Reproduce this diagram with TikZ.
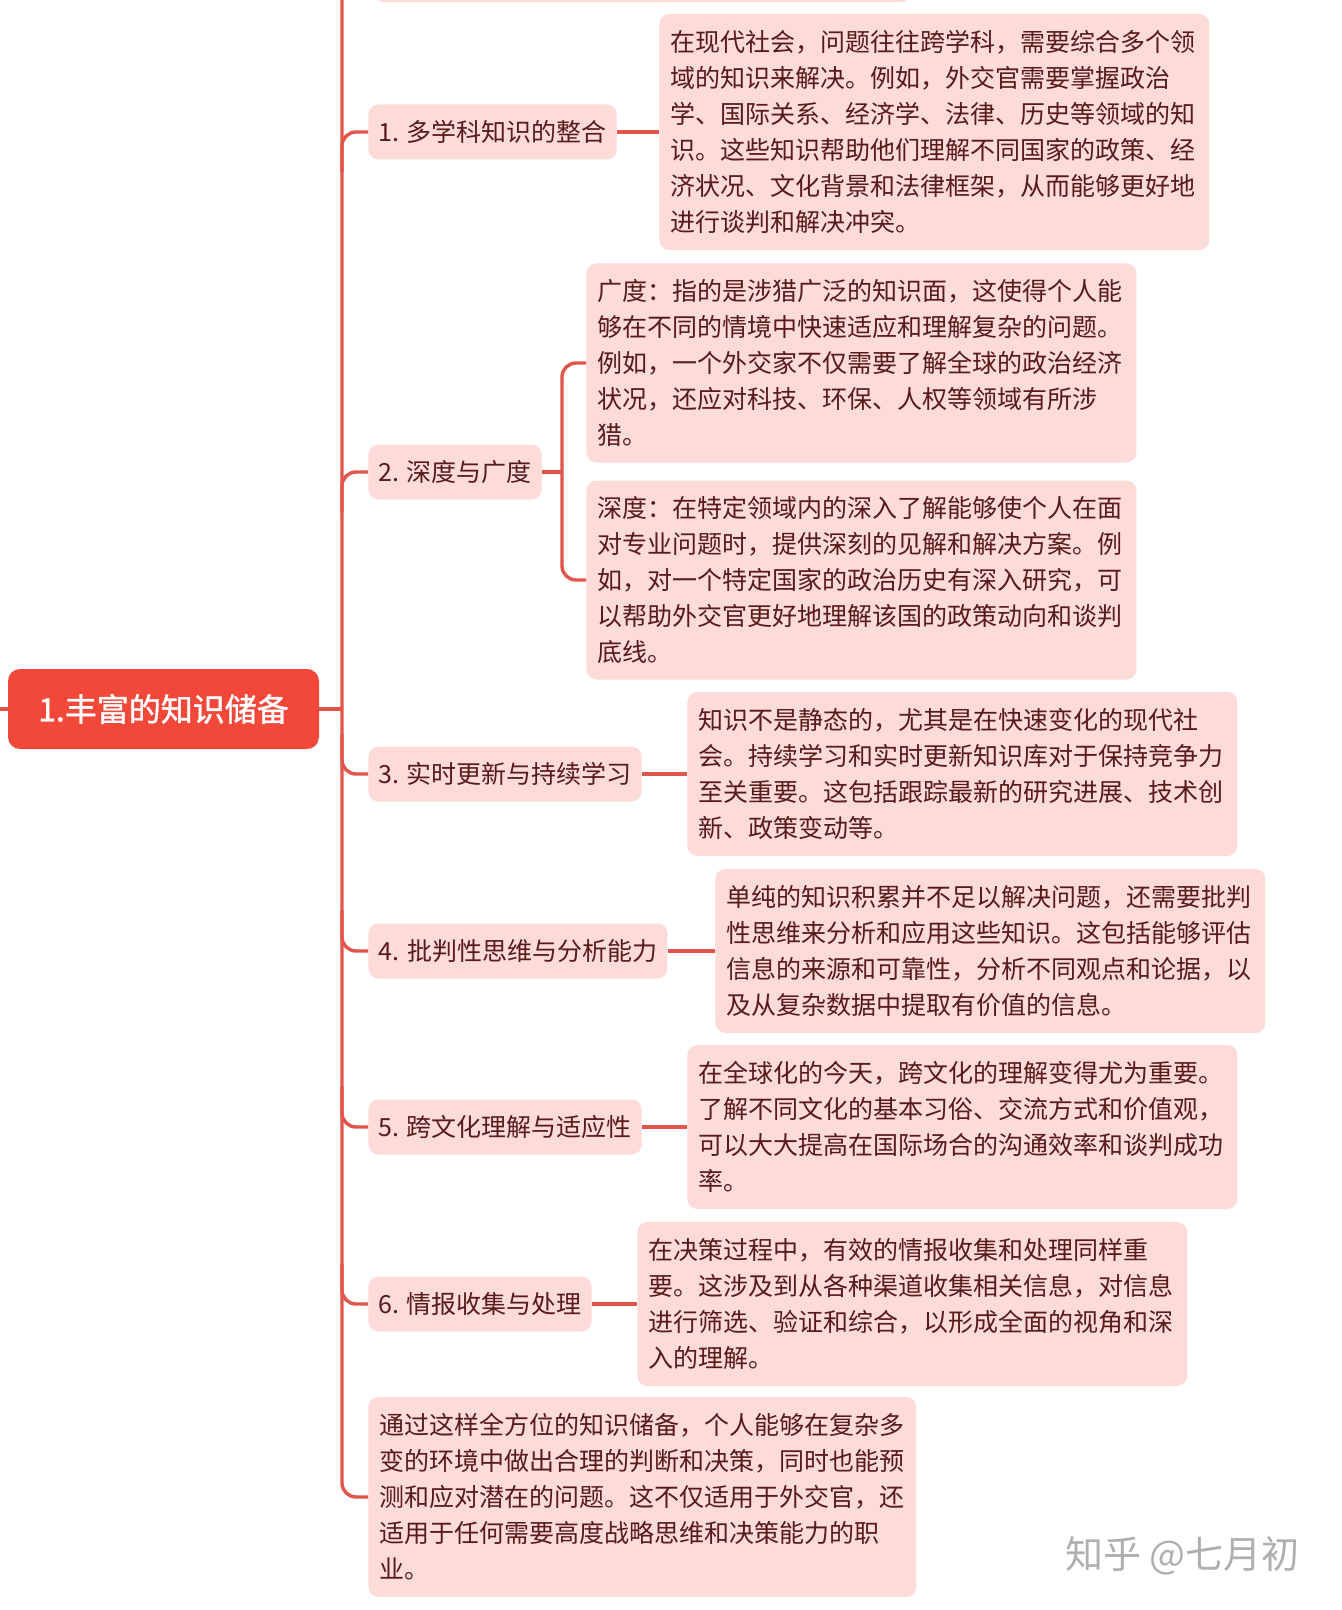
\documentclass[tikz,border=0pt]{standalone}
\usepackage{fontspec}
\setmainfont{Noto Sans CJK SC}
\newfontfamily\rootfont[FakeBold=1.2]{Noto Sans CJK SC}
\definecolor{boxpink}{RGB}{253,219,217}
\definecolor{linered}{RGB}{226,84,74}
\definecolor{rootred}{RGB}{241,72,58}
\definecolor{txt}{RGB}{88,26,26}
\definecolor{wmgray}{RGB}{175,175,175}
\begin{document}
\begin{tikzpicture}[x=0.5pt,y=-0.5pt,
  conn/.style={draw=linered,line width=1.7pt},
  detail/.style={fill=boxpink,rounded corners=5pt,inner xsep=5.5pt,inner ysep=0pt,
    text width=264pt,align=left,anchor=west,text=txt,font=\fontsize{12.5}{18}\selectfont},
  branchbox/.style={fill=boxpink,rounded corners=5pt,inner xsep=5pt,inner ysep=0pt,
    minimum height=27.5pt,anchor=west,text=txt,font=\fontsize{12.5}{18}\selectfont},
  rootbox/.style={fill=rootred,rounded corners=6pt,minimum width=155.5pt,minimum height=40pt,
    text=white,font=\rootfont\fontsize{16}{20}\selectfont}]
\useasboundingbox (0,0) rectangle (1342,1610);
\fill[white] (0,0) rectangle (1342,1610);

% partial box of previous section at the top
\fill[boxpink,rounded corners=5pt] (373,-80) rectangle (911,2);

% root
\node[rootbox] (root) at (163.5,709) {1.丰富的知识储备};
\coordinate (lstub) at (0,709);
\coordinate (trunktop) at (342,-10);
\coordinate (rootj) at (342,709);

% branch labels
\node[branchbox,minimum width=121.5pt] (b1) at (368,132) {1. 多学科知识的整合};
\node[branchbox,minimum width=85.5pt] (b2) at (368,472) {2. 深度与广度};
\node[branchbox,minimum width=135.5pt] (b3) at (368,774) {3. 实时更新与持续学习};
\node[branchbox,minimum width=149.5pt] (b4) at (368,951) {4. 批判性思维与分析能力};
\node[branchbox,minimum width=135.5pt] (b5) at (368,1127) {5. 跨文化理解与适应性};
\node[branchbox,minimum width=110.5pt] (b6) at (368,1304) {6. 情报收集与处理};

% detail boxes
\node[detail,minimum height=118pt] (d1) at (659,132) {在现代社会，问题往往跨学科，需要综合多个领\\域的知识来解决。例如，外交官需要掌握政治\\学、国际关系、经济学、法律、历史等领域的知\\识。这些知识帮助他们理解不同国家的政策、经\\济状况、文化背景和法律框架，从而能够更好地\\进行谈判和解决冲突。};
\node[detail,minimum height=99.5pt] (d2a) at (586,363) {广度：指的是涉猎广泛的知识面，这使得个人能\\够在不同的情境中快速适应和理解复杂的问题。\\例如，一个外交家不仅需要了解全球的政治经济\\状况，还应对科技、环保、人权等领域有所涉\\猎。};
\node[detail,minimum height=99.5pt] (d2b) at (586,580) {深度：在特定领域内的深入了解能够使个人在面\\对专业问题时，提供深刻的见解和解决方案。例\\如，对一个特定国家的政治历史有深入研究，可\\以帮助外交官更好地理解该国的政策动向和谈判\\底线。};
\node[detail,minimum height=82pt] (d3) at (687,774) {知识不是静态的，尤其是在快速变化的现代社\\会。持续学习和实时更新知识库对于保持竞争力\\至关重要。这包括跟踪最新的研究进展、技术创\\新、政策变动等。};
\node[detail,minimum height=82pt] (d4) at (715,951) {单纯的知识积累并不足以解决问题，还需要批判\\性思维来分析和应用这些知识。这包括能够评估\\信息的来源和可靠性，分析不同观点和论据，以\\及从复杂数据中提取有价值的信息。};
\node[detail,minimum height=82pt] (d5) at (687,1127) {在全球化的今天，跨文化的理解变得尤为重要。\\了解不同文化的基本习俗、交流方式和价值观，\\可以大大提高在国际场合的沟通效率和谈判成功\\率。};
\node[detail,minimum height=82pt] (d6) at (637,1304) {在决策过程中，有效的情报收集和处理同样重\\要。这涉及到从各种渠道收集相关信息，对信息\\进行筛选、验证和综合，以形成全面的视角和深\\入的理解。};
\node[detail,text width=263pt,minimum height=100pt] (fin) at (368,1497) {通过这样全方位的知识储备，个人能够在复杂多\\变的环境中做出合理的判断和决策，同时也能预\\测和应对潜在的问题。这不仅适用于外交官，还\\适用于任何需要高度战略思维和决策能力的职\\业。};

% connectors
\draw[conn] (lstub) -- (root.west);
\draw[conn] (root.east) -- (rootj);
\draw[conn,rounded corners=7pt] (trunktop) |- (fin.west);
\coordinate (j1) at (342,172);
\coordinate (j2) at (342,512);
\coordinate (j3) at (342,734);
\coordinate (j4) at (342,911);
\coordinate (j5) at (342,1087);
\coordinate (j6) at (342,1264);
\draw[conn,rounded corners=7pt] (j1) |- (b1.west);
\draw[conn,rounded corners=7pt] (j2) |- (b2.west);
\draw[conn,rounded corners=7pt] (j3) |- (b3.west);
\draw[conn,rounded corners=7pt] (j4) |- (b4.west);
\draw[conn,rounded corners=7pt] (j5) |- (b5.west);
\draw[conn,rounded corners=7pt] (j6) |- (b6.west);
\draw[conn] (b1.east) -- (d1.west);
\coordinate (br) at (562,472);
\draw[conn] (b2.east) -- (br);
\draw[conn,rounded corners=7pt] (br) |- (d2a.west);
\draw[conn,rounded corners=7pt] (br) |- (d2b.west);
\draw[conn] (b3.east) -- (d3.west);
\draw[conn] (b4.east) -- (d4.west);
\draw[conn] (b5.east) -- (d5.west);
\draw[conn] (b6.east) -- (d6.west);

% watermark
\node[text=wmgray,font=\fontsize{19}{22}\selectfont,anchor=west] (wm) at (1058,1556) {知乎 @七月初};
\end{tikzpicture}
\end{document}
